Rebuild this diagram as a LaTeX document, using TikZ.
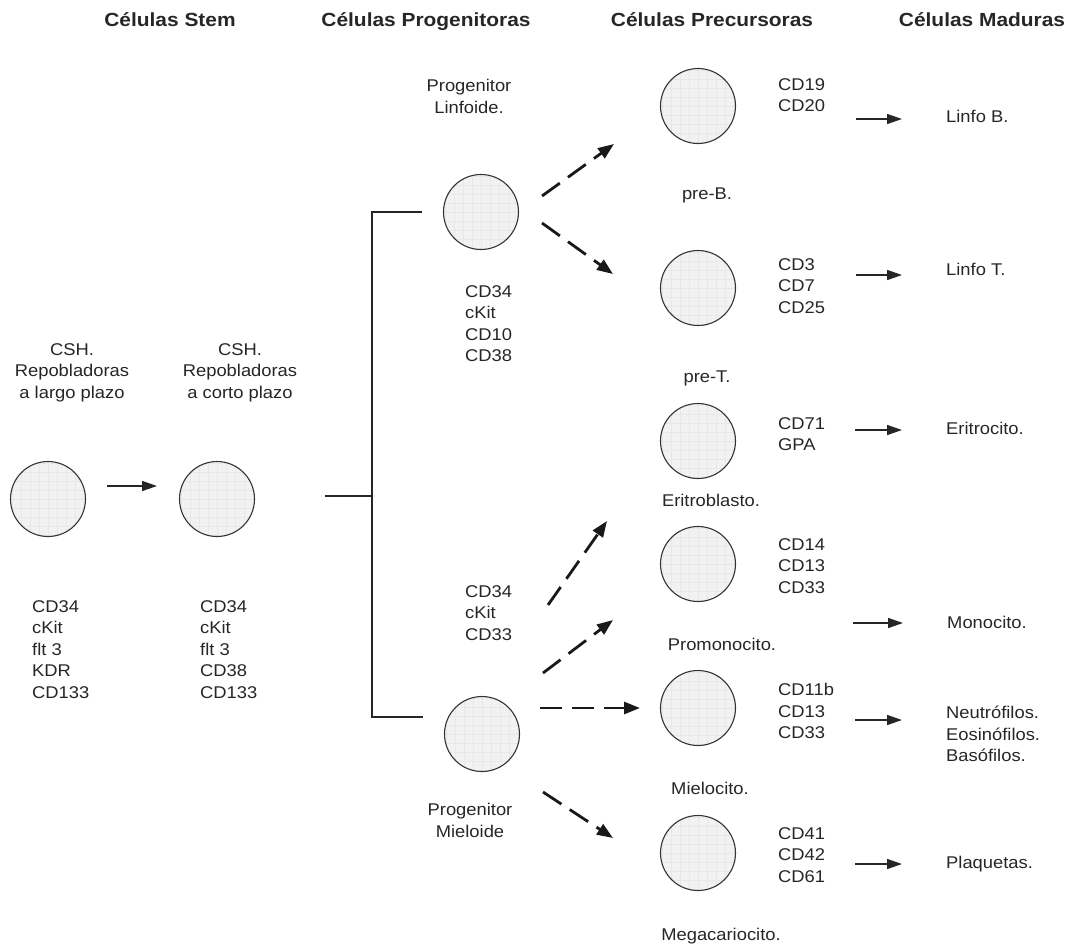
\documentclass[tikz,border=0pt]{standalone}
\usepackage{fontspec}
\setmainfont{Liberation Sans}[FakeStretch=1.08]
\newfontfamily\headfont{Liberation Sans}[FakeStretch=1.1]
\usetikzlibrary{arrows.meta}
\begin{document}
\begin{tikzpicture}[x=1pt,y=-1pt,
  cell/.style={circle, draw=black!80, line width=1.1pt, fill=black!5, minimum size=75pt, inner sep=0pt,
    path picture={\draw[black!9, line width=0.4pt, step=9pt] (path picture bounding box.south west) grid (path picture bounding box.north east);}},
  txt/.style={inner sep=0pt, font=\fontsize{17}{21.5}\selectfont, text=black!85, execute at begin node={\rule{0pt}{16pt}}},
  lft/.style={txt, align=left, anchor=north west},
  ctr/.style={txt, align=center, anchor=north},
  head/.style={inner sep=0pt, anchor=base, font=\headfont\bfseries\fontsize{19}{23}\selectfont, text=black!85},
  sol/.style={line width=1.5pt, draw=black!85, -{Triangle[length=15pt,width=10pt]}},
  dsh/.style={line width=2.8pt, draw=black!90, dash pattern=on 22pt off 10pt, -{Triangle[length=16pt,width=12pt]}},
  brk/.style={line width=1.5pt, draw=black!85}
]
\useasboundingbox (0,0) rectangle (1073,946);

% headings
\node[head] (h1) at (170,26) {Células Stem};
\node[head] (h2) at (426,26) {Células Progenitoras};
\node[head] (h3) at (712,26) {Células Precursoras};
\node[head] (h4) at (982,26) {Células Maduras};

% cells
\node[cell] (c1) at (48,499) {};
\node[cell] (c2) at (217,499) {};
\node[cell] (pl) at (481,212) {};
\node[cell] (pm) at (482,734) {};
\node[cell] (pb) at (698,106) {};
\node[cell] (pt) at (698,288) {};
\node[cell] (pe) at (698,441) {};
\node[cell] (pmo) at (698,564) {};
\node[cell] (pmi) at (698,708) {};
\node[cell] (pmg) at (698,853) {};

% stem texts
\node[ctr] (t1) at (72,343) {CSH.\\Repobladoras\\a largo plazo};
\node[ctr] (t2) at (240,343) {CSH.\\Repobladoras\\a corto plazo};
\node[lft] (m1) at (32,600) {CD34\\cKit\\flt 3\\KDR\\CD133};
\node[lft] (m2) at (200,600) {CD34\\cKit\\flt 3\\CD38\\CD133};

% progenitor texts
\node[ctr] (tl) at (469,79) {Progenitor\\Linfoide.};
\node[lft] (ml) at (465,285) {CD34\\cKit\\CD10\\CD38};
\node[lft] (mm) at (465,585) {CD34\\cKit\\CD33};
\node[ctr] (tm) at (470,803) {Progenitor\\Mieloide};

% precursor texts
\node[lft] (mb) at (778,78) {CD19\\CD20};
\node[ctr] (tb) at (707,183) {pre-B.};
\node[lft] (mt) at (778,258) {CD3\\CD7\\CD25};
\node[ctr] (tt) at (707,366) {pre-T.};
\node[lft] (me) at (778,417) {CD71\\GPA};
\node[ctr] (te) at (711,490) {Eritroblasto.};
\node[lft] (mmo) at (778,538) {CD14\\CD13\\CD33};
\node[ctr] (tmo) at (722,634) {Promonocito.};
\node[lft] (mmi) at (778,683) {CD11b\\CD13\\CD33};
\node[ctr] (tmi) at (710,778) {Mielocito.};
\node[lft] (mmg) at (778,827) {CD41\\CD42\\CD61};
\node[ctr] (tmg) at (721,924) {Megacariocito.};

% mature texts
\node[lft] (fb) at (946,106) {Linfo B.};
\node[lft] (ft) at (946,259) {Linfo T.};
\node[lft] (fe) at (946,418) {Eritrocito.};
\node[lft] (fmo) at (947,612) {Monocito.};
\node[lft] (fmi) at (946,706) {Neutrófilos.\\Eosinófilos.\\Basófilos.};
\node[lft] (fmg) at (946,852) {Plaquetas.};

% connector end points
\coordinate (a0s) at (107,486); \coordinate (a0e) at (157,486);
\coordinate (abs) at (856,119); \coordinate (abe) at (902,119);
\coordinate (ats) at (856,275); \coordinate (ate) at (902,275);
\coordinate (aes) at (855,430); \coordinate (aee) at (902,430);
\coordinate (amos) at (853,623); \coordinate (amoe) at (903,623);
\coordinate (amis) at (855,720); \coordinate (amie) at (902,720);
\coordinate (amgs) at (855,864); \coordinate (amge) at (902,864);

\coordinate (bs) at (325,496); \coordinate (bm) at (372,496);
\coordinate (btl) at (372,212); \coordinate (btr) at (422,212);
\coordinate (bbl) at (372,717); \coordinate (bbr) at (423,717);

\coordinate (d1s) at (542,196); \coordinate (d1e) at (614,144);
\coordinate (d2s) at (542,223); \coordinate (d2e) at (613,274);
\coordinate (d3s) at (548,605); \coordinate (d3e) at (607,521);
\coordinate (d4s) at (543,673); \coordinate (d4e) at (613,620);
\coordinate (d5s) at (540,708); \coordinate (d5e) at (640,708);
\coordinate (d6s) at (543,792); \coordinate (d6e) at (613,838);

% solid arrows
\draw[sol] (a0s) -- (a0e);
\draw[sol] (abs) -- (abe);
\draw[sol] (ats) -- (ate);
\draw[sol] (aes) -- (aee);
\draw[sol] (amos) -- (amoe);
\draw[sol] (amis) -- (amie);
\draw[sol] (amgs) -- (amge);

% bracket
\draw[brk] (bs) -- (bm);
\draw[brk] (btr) -- (btl) -- (bbl) -- (bbr);

% dashed arrows
\draw[dsh] (d1s) -- (d1e);
\draw[dsh] (d2s) -- (d2e);
\draw[dsh] (d3s) -- (d3e);
\draw[dsh] (d4s) -- (d4e);
\draw[dsh] (d5s) -- (d5e);
\draw[dsh] (d6s) -- (d6e);
\end{tikzpicture}
\end{document}
